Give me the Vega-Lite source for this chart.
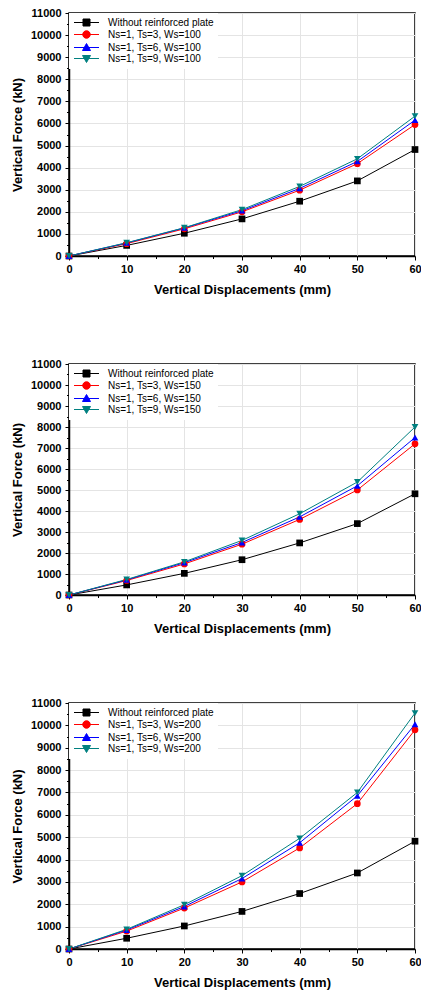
{
  "$schema": "https://vega.github.io/schema/vega-lite/v6.json",
  "padding": {"left": 10, "top": 6, "right": 0, "bottom": 0},
  "spacing": 60,
  "background": "white",
  "config": {
    "view": {"stroke": "#000000", "strokeWidth": 1.5},
    "axis": {
      "domainColor": "#000000", "domainWidth": 1.5,
      "tickColor": "#000000", "tickWidth": 1,
      "labelFont": "Liberation Sans", "labelFontWeight": "bold", "labelFontSize": 11, "labelColor": "#000000",
      "titleFont": "Liberation Sans", "titleFontWeight": "bold", "titleFontSize": 13, "titleColor": "#000000",
      "gridColor": "#e4e4e4", "gridWidth": 1
    },
    "legend": {
      "orient": "top-left", "offset": 0, "padding": 4, "fillColor": "white",
      "labelFont": "Liberation Sans", "labelFontSize": 10, "labelColor": "#000000", "labelLimit": 300,
      "symbolSize": 100, "symbolOffset": 8, "labelOffset": 16, "rowPadding": 0, "symbolStrokeWidth": 1
    }
  },
  "datasets": {
    "d100": [
      {"x": 0, "force": 0, "series": "Without reinforced plate"},
      {"x": 10, "force": 480, "series": "Without reinforced plate"},
      {"x": 20, "force": 1030, "series": "Without reinforced plate"},
      {"x": 30, "force": 1680, "series": "Without reinforced plate"},
      {"x": 40, "force": 2480, "series": "Without reinforced plate"},
      {"x": 50, "force": 3400, "series": "Without reinforced plate"},
      {"x": 60, "force": 4820, "series": "Without reinforced plate"},
      {"x": 0, "force": 0, "series": "Ns=1, Ts=3, Ws=100"},
      {"x": 10, "force": 560, "series": "Ns=1, Ts=3, Ws=100"},
      {"x": 20, "force": 1230, "series": "Ns=1, Ts=3, Ws=100"},
      {"x": 30, "force": 2000, "series": "Ns=1, Ts=3, Ws=100"},
      {"x": 40, "force": 2980, "series": "Ns=1, Ts=3, Ws=100"},
      {"x": 50, "force": 4180, "series": "Ns=1, Ts=3, Ws=100"},
      {"x": 60, "force": 5950, "series": "Ns=1, Ts=3, Ws=100"},
      {"x": 0, "force": 0, "series": "Ns=1, Ts=6, Ws=100"},
      {"x": 10, "force": 590, "series": "Ns=1, Ts=6, Ws=100"},
      {"x": 20, "force": 1270, "series": "Ns=1, Ts=6, Ws=100"},
      {"x": 30, "force": 2050, "series": "Ns=1, Ts=6, Ws=100"},
      {"x": 40, "force": 3060, "series": "Ns=1, Ts=6, Ws=100"},
      {"x": 50, "force": 4280, "series": "Ns=1, Ts=6, Ws=100"},
      {"x": 60, "force": 6150, "series": "Ns=1, Ts=6, Ws=100"},
      {"x": 0, "force": 0, "series": "Ns=1, Ts=9, Ws=100"},
      {"x": 10, "force": 600, "series": "Ns=1, Ts=9, Ws=100"},
      {"x": 20, "force": 1280, "series": "Ns=1, Ts=9, Ws=100"},
      {"x": 30, "force": 2100, "series": "Ns=1, Ts=9, Ws=100"},
      {"x": 40, "force": 3150, "series": "Ns=1, Ts=9, Ws=100"},
      {"x": 50, "force": 4400, "series": "Ns=1, Ts=9, Ws=100"},
      {"x": 60, "force": 6330, "series": "Ns=1, Ts=9, Ws=100"}
    ],
    "d150": [
      {"x": 0, "force": 0, "series": "Without reinforced plate"},
      {"x": 10, "force": 480, "series": "Without reinforced plate"},
      {"x": 20, "force": 1030, "series": "Without reinforced plate"},
      {"x": 30, "force": 1680, "series": "Without reinforced plate"},
      {"x": 40, "force": 2480, "series": "Without reinforced plate"},
      {"x": 50, "force": 3400, "series": "Without reinforced plate"},
      {"x": 60, "force": 4820, "series": "Without reinforced plate"},
      {"x": 0, "force": 0, "series": "Ns=1, Ts=3, Ws=150"},
      {"x": 10, "force": 690, "series": "Ns=1, Ts=3, Ws=150"},
      {"x": 20, "force": 1480, "series": "Ns=1, Ts=3, Ws=150"},
      {"x": 30, "force": 2420, "series": "Ns=1, Ts=3, Ws=150"},
      {"x": 40, "force": 3600, "series": "Ns=1, Ts=3, Ws=150"},
      {"x": 50, "force": 5000, "series": "Ns=1, Ts=3, Ws=150"},
      {"x": 60, "force": 7200, "series": "Ns=1, Ts=3, Ws=150"},
      {"x": 0, "force": 0, "series": "Ns=1, Ts=6, Ws=150"},
      {"x": 10, "force": 720, "series": "Ns=1, Ts=6, Ws=150"},
      {"x": 20, "force": 1540, "series": "Ns=1, Ts=6, Ws=150"},
      {"x": 30, "force": 2500, "series": "Ns=1, Ts=6, Ws=150"},
      {"x": 40, "force": 3720, "series": "Ns=1, Ts=6, Ws=150"},
      {"x": 50, "force": 5200, "series": "Ns=1, Ts=6, Ws=150"},
      {"x": 60, "force": 7500, "series": "Ns=1, Ts=6, Ws=150"},
      {"x": 0, "force": 0, "series": "Ns=1, Ts=9, Ws=150"},
      {"x": 10, "force": 740, "series": "Ns=1, Ts=9, Ws=150"},
      {"x": 20, "force": 1580, "series": "Ns=1, Ts=9, Ws=150"},
      {"x": 30, "force": 2600, "series": "Ns=1, Ts=9, Ws=150"},
      {"x": 40, "force": 3870, "series": "Ns=1, Ts=9, Ws=150"},
      {"x": 50, "force": 5380, "series": "Ns=1, Ts=9, Ws=150"},
      {"x": 60, "force": 8000, "series": "Ns=1, Ts=9, Ws=150"}
    ],
    "d200": [
      {"x": 0, "force": 0, "series": "Without reinforced plate"},
      {"x": 10, "force": 480, "series": "Without reinforced plate"},
      {"x": 20, "force": 1030, "series": "Without reinforced plate"},
      {"x": 30, "force": 1680, "series": "Without reinforced plate"},
      {"x": 40, "force": 2480, "series": "Without reinforced plate"},
      {"x": 50, "force": 3400, "series": "Without reinforced plate"},
      {"x": 60, "force": 4820, "series": "Without reinforced plate"},
      {"x": 0, "force": 0, "series": "Ns=1, Ts=3, Ws=200"},
      {"x": 10, "force": 800, "series": "Ns=1, Ts=3, Ws=200"},
      {"x": 20, "force": 1830, "series": "Ns=1, Ts=3, Ws=200"},
      {"x": 30, "force": 3000, "series": "Ns=1, Ts=3, Ws=200"},
      {"x": 40, "force": 4520, "series": "Ns=1, Ts=3, Ws=200"},
      {"x": 50, "force": 6500, "series": "Ns=1, Ts=3, Ws=200"},
      {"x": 60, "force": 9800, "series": "Ns=1, Ts=3, Ws=200"},
      {"x": 0, "force": 0, "series": "Ns=1, Ts=6, Ws=200"},
      {"x": 10, "force": 850, "series": "Ns=1, Ts=6, Ws=200"},
      {"x": 20, "force": 1900, "series": "Ns=1, Ts=6, Ws=200"},
      {"x": 30, "force": 3150, "series": "Ns=1, Ts=6, Ws=200"},
      {"x": 40, "force": 4750, "series": "Ns=1, Ts=6, Ws=200"},
      {"x": 50, "force": 6850, "series": "Ns=1, Ts=6, Ws=200"},
      {"x": 60, "force": 10050, "series": "Ns=1, Ts=6, Ws=200"},
      {"x": 0, "force": 0, "series": "Ns=1, Ts=9, Ws=200"},
      {"x": 10, "force": 880, "series": "Ns=1, Ts=9, Ws=200"},
      {"x": 20, "force": 1980, "series": "Ns=1, Ts=9, Ws=200"},
      {"x": 30, "force": 3280, "series": "Ns=1, Ts=9, Ws=200"},
      {"x": 40, "force": 4950, "series": "Ns=1, Ts=9, Ws=200"},
      {"x": 50, "force": 7000, "series": "Ns=1, Ts=9, Ws=200"},
      {"x": 60, "force": 10550, "series": "Ns=1, Ts=9, Ws=200"}
    ]
  },
  "resolve": {
    "scale": {"color": "independent", "shape": "independent"},
    "legend": {"color": "independent", "shape": "independent"}
  },
  "vconcat": [
    {
      "width": 346, "height": 243,
      "data": {"name": "d100"},
      "encoding": {
        "x": {"field": "x", "type": "quantitative", "title": "Vertical Displacements (mm)",
          "scale": {"domain": [0, 60], "nice": false},
          "axis": {"values": [0,5,10,15,20,25,30,35,40,45,50,55,60], "labelExpr": "datum.value % 10 === 0 ? datum.label : ''", "labelFlush": false, "labelPadding": 3, "titlePadding": 9,
            "tickSize": {"condition": {"test": "datum.value % 10 === 0", "value": 4}, "value": 2.5},
            "gridOpacity": {"condition": {"test": "datum.value % 10 === 0", "value": 1}, "value": 0}}},
        "y": {"field": "force", "type": "quantitative", "title": "Vertical Force (kN)",
          "scale": {"domain": [0, 11000], "nice": false},
          "axis": {"values": [0,500,1000,1500,2000,2500,3000,3500,4000,4500,5000,5500,6000,6500,7000,7500,8000,8500,9000,9500,10000,10500,11000], "labelExpr": "datum.value % 1000 === 0 ? datum.label : ''", "format": "d", "labelPadding": 4, "titlePadding": 6,
            "tickSize": {"condition": {"test": "datum.value % 1000 === 0", "value": 4}, "value": 2.5},
            "gridOpacity": {"condition": {"test": "datum.value % 1000 === 0", "value": 1}, "value": 0}}},
        "color": {"field": "series", "type": "nominal",
          "scale": {"domain": ["Without reinforced plate", "Ns=1, Ts=3, Ws=100", "Ns=1, Ts=6, Ws=100", "Ns=1, Ts=9, Ws=100"], "range": ["#000000", "#ff0000", "#0000ff", "#008080"]},
          "legend": {"title": null, "encode": {"symbols": {"update": {
            "shape": {"signal": "indexof(datum.value, 'Without') >= 0 ? 'M-2.5,0H2.5M-0.7,-0.7H0.7V0.7H-0.7Z' : indexof(datum.value, 'Ts=3') >= 0 ? 'M-2.5,0H2.5M-0.75,0A0.75,0.75,0,1,0,0.75,0A0.75,0.75,0,1,0,-0.75,0Z' : indexof(datum.value, 'Ts=6') >= 0 ? 'M-2.5,0H2.5M0,-0.8L0.8,0.6L-0.8,0.6Z' : 'M-2.5,0H2.5M0,0.8L0.8,-0.6L-0.8,-0.6Z'"},
            "fill": {"signal": "indexof(datum.value, 'Without') >= 0 ? '#000000' : indexof(datum.value, 'Ts=3') >= 0 ? '#ff0000' : indexof(datum.value, 'Ts=6') >= 0 ? '#0000ff' : '#008080'"},
            "stroke": {"signal": "indexof(datum.value, 'Without') >= 0 ? '#000000' : indexof(datum.value, 'Ts=3') >= 0 ? '#ff0000' : indexof(datum.value, 'Ts=6') >= 0 ? '#0000ff' : '#008080'"},
            "strokeWidth": {"value": 1}, "opacity": {"value": 1}}}}}}
      },
      "layer": [
        {"mark": {"type": "line", "strokeWidth": 1}},
        {"mark": {"type": "point", "filled": true, "opacity": 1, "size": 45},
          "encoding": {
            "shape": {"field": "series", "type": "nominal",
              "scale": {"domain": ["Ns=1, Ts=9, Ws=100", "Ns=1, Ts=6, Ws=100", "Ns=1, Ts=3, Ws=100", "Without reinforced plate"], "range": ["triangle-down", "triangle-up", "circle", "square"]},
              "legend": null}
          }}
      ]
    },
    {
      "width": 346, "height": 231,
      "data": {"name": "d150"},
      "encoding": {
        "x": {"field": "x", "type": "quantitative", "title": "Vertical Displacements (mm)",
          "scale": {"domain": [0, 60], "nice": false},
          "axis": {"values": [0,5,10,15,20,25,30,35,40,45,50,55,60], "labelExpr": "datum.value % 10 === 0 ? datum.label : ''", "labelFlush": false, "labelPadding": 3, "titlePadding": 9,
            "tickSize": {"condition": {"test": "datum.value % 10 === 0", "value": 4}, "value": 2.5},
            "gridOpacity": {"condition": {"test": "datum.value % 10 === 0", "value": 1}, "value": 0}}},
        "y": {"field": "force", "type": "quantitative", "title": "Vertical Force (kN)",
          "scale": {"domain": [0, 11000], "nice": false},
          "axis": {"values": [0,500,1000,1500,2000,2500,3000,3500,4000,4500,5000,5500,6000,6500,7000,7500,8000,8500,9000,9500,10000,10500,11000], "labelExpr": "datum.value % 1000 === 0 ? datum.label : ''", "format": "d", "labelPadding": 4, "titlePadding": 6,
            "tickSize": {"condition": {"test": "datum.value % 1000 === 0", "value": 4}, "value": 2.5},
            "gridOpacity": {"condition": {"test": "datum.value % 1000 === 0", "value": 1}, "value": 0}}},
        "color": {"field": "series", "type": "nominal",
          "scale": {"domain": ["Without reinforced plate", "Ns=1, Ts=3, Ws=150", "Ns=1, Ts=6, Ws=150", "Ns=1, Ts=9, Ws=150"], "range": ["#000000", "#ff0000", "#0000ff", "#008080"]},
          "legend": {"title": null, "encode": {"symbols": {"update": {
            "shape": {"signal": "indexof(datum.value, 'Without') >= 0 ? 'M-2.5,0H2.5M-0.7,-0.7H0.7V0.7H-0.7Z' : indexof(datum.value, 'Ts=3') >= 0 ? 'M-2.5,0H2.5M-0.75,0A0.75,0.75,0,1,0,0.75,0A0.75,0.75,0,1,0,-0.75,0Z' : indexof(datum.value, 'Ts=6') >= 0 ? 'M-2.5,0H2.5M0,-0.8L0.8,0.6L-0.8,0.6Z' : 'M-2.5,0H2.5M0,0.8L0.8,-0.6L-0.8,-0.6Z'"},
            "fill": {"signal": "indexof(datum.value, 'Without') >= 0 ? '#000000' : indexof(datum.value, 'Ts=3') >= 0 ? '#ff0000' : indexof(datum.value, 'Ts=6') >= 0 ? '#0000ff' : '#008080'"},
            "stroke": {"signal": "indexof(datum.value, 'Without') >= 0 ? '#000000' : indexof(datum.value, 'Ts=3') >= 0 ? '#ff0000' : indexof(datum.value, 'Ts=6') >= 0 ? '#0000ff' : '#008080'"},
            "strokeWidth": {"value": 1}, "opacity": {"value": 1}}}}}}
      },
      "layer": [
        {"mark": {"type": "line", "strokeWidth": 1}},
        {"mark": {"type": "point", "filled": true, "opacity": 1, "size": 45},
          "encoding": {
            "shape": {"field": "series", "type": "nominal",
              "scale": {"domain": ["Ns=1, Ts=9, Ws=150", "Ns=1, Ts=6, Ws=150", "Ns=1, Ts=3, Ws=150", "Without reinforced plate"], "range": ["triangle-down", "triangle-up", "circle", "square"]},
              "legend": null}
          }}
      ]
    },
    {
      "width": 346, "height": 246,
      "data": {"name": "d200"},
      "encoding": {
        "x": {"field": "x", "type": "quantitative", "title": "Vertical Displacements (mm)",
          "scale": {"domain": [0, 60], "nice": false},
          "axis": {"values": [0,5,10,15,20,25,30,35,40,45,50,55,60], "labelExpr": "datum.value % 10 === 0 ? datum.label : ''", "labelFlush": false, "labelPadding": 3, "titlePadding": 9,
            "tickSize": {"condition": {"test": "datum.value % 10 === 0", "value": 4}, "value": 2.5},
            "gridOpacity": {"condition": {"test": "datum.value % 10 === 0", "value": 1}, "value": 0}}},
        "y": {"field": "force", "type": "quantitative", "title": "Vertical Force (kN)",
          "scale": {"domain": [0, 11000], "nice": false},
          "axis": {"values": [0,500,1000,1500,2000,2500,3000,3500,4000,4500,5000,5500,6000,6500,7000,7500,8000,8500,9000,9500,10000,10500,11000], "labelExpr": "datum.value % 1000 === 0 ? datum.label : ''", "format": "d", "labelPadding": 4, "titlePadding": 6,
            "tickSize": {"condition": {"test": "datum.value % 1000 === 0", "value": 4}, "value": 2.5},
            "gridOpacity": {"condition": {"test": "datum.value % 1000 === 0", "value": 1}, "value": 0}}},
        "color": {"field": "series", "type": "nominal",
          "scale": {"domain": ["Without reinforced plate", "Ns=1, Ts=3, Ws=200", "Ns=1, Ts=6, Ws=200", "Ns=1, Ts=9, Ws=200"], "range": ["#000000", "#ff0000", "#0000ff", "#008080"]},
          "legend": {"title": null, "encode": {"symbols": {"update": {
            "shape": {"signal": "indexof(datum.value, 'Without') >= 0 ? 'M-2.5,0H2.5M-0.7,-0.7H0.7V0.7H-0.7Z' : indexof(datum.value, 'Ts=3') >= 0 ? 'M-2.5,0H2.5M-0.75,0A0.75,0.75,0,1,0,0.75,0A0.75,0.75,0,1,0,-0.75,0Z' : indexof(datum.value, 'Ts=6') >= 0 ? 'M-2.5,0H2.5M0,-0.8L0.8,0.6L-0.8,0.6Z' : 'M-2.5,0H2.5M0,0.8L0.8,-0.6L-0.8,-0.6Z'"},
            "fill": {"signal": "indexof(datum.value, 'Without') >= 0 ? '#000000' : indexof(datum.value, 'Ts=3') >= 0 ? '#ff0000' : indexof(datum.value, 'Ts=6') >= 0 ? '#0000ff' : '#008080'"},
            "stroke": {"signal": "indexof(datum.value, 'Without') >= 0 ? '#000000' : indexof(datum.value, 'Ts=3') >= 0 ? '#ff0000' : indexof(datum.value, 'Ts=6') >= 0 ? '#0000ff' : '#008080'"},
            "strokeWidth": {"value": 1}, "opacity": {"value": 1}}}}}}
      },
      "layer": [
        {"mark": {"type": "line", "strokeWidth": 1}},
        {"mark": {"type": "point", "filled": true, "opacity": 1, "size": 45},
          "encoding": {
            "shape": {"field": "series", "type": "nominal",
              "scale": {"domain": ["Ns=1, Ts=9, Ws=200", "Ns=1, Ts=6, Ws=200", "Ns=1, Ts=3, Ws=200", "Without reinforced plate"], "range": ["triangle-down", "triangle-up", "circle", "square"]},
              "legend": null}
          }}
      ]
    }
  ]
}
